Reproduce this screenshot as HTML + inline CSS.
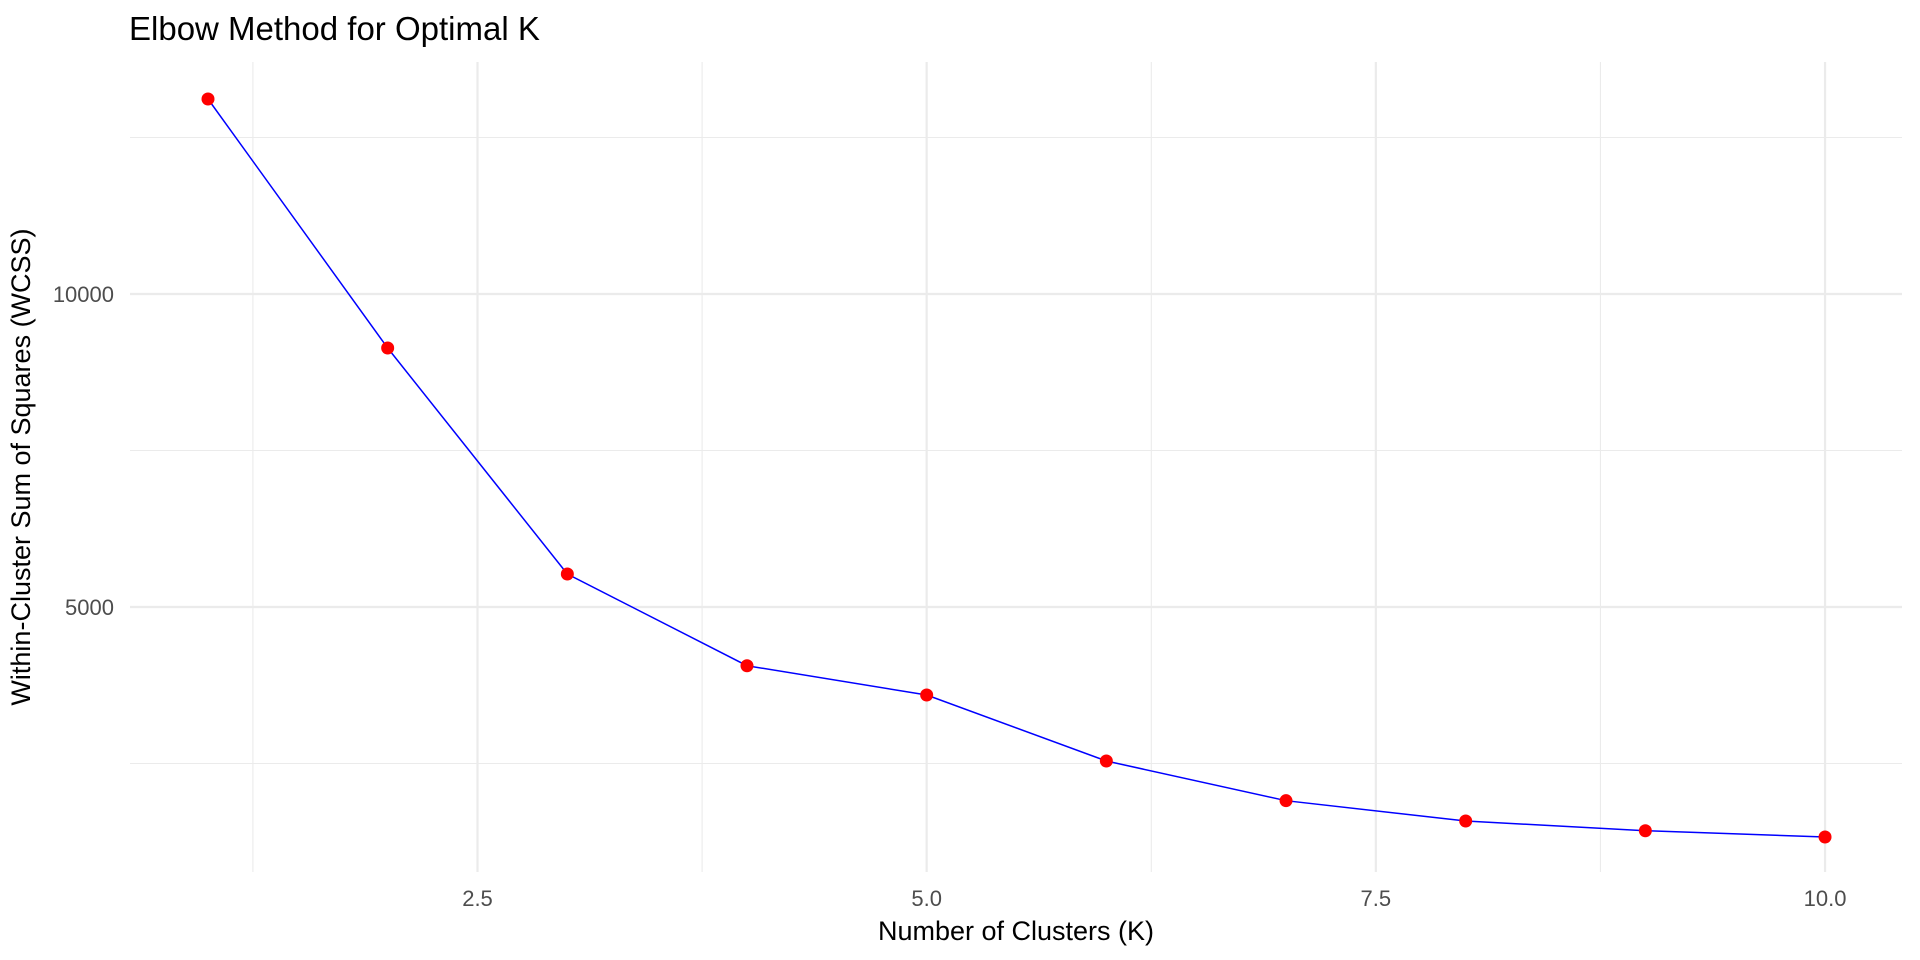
<!DOCTYPE html>
<html><head><meta charset="utf-8"><style>
html,body{margin:0;padding:0;background:#fff;}
svg{display:block;font-family:"Liberation Sans",Arial,sans-serif;}
</style></head><body>
<svg id="chart" width="1920" height="960" viewBox="0 0 1920 960" xmlns="http://www.w3.org/2000/svg">
<rect width="1920" height="960" fill="#fff"/>
<g id="grid"></g>
<g id="axes"></g>
<g id="series"></g>
<text x="129" y="40" font-size="33" fill="#000">Elbow Method for Optimal K</text>
<text x="1016" y="940" font-size="27" fill="#000" text-anchor="middle">Number of Clusters (K)</text>
<text transform="translate(30,467) rotate(-90)" font-size="27" fill="#000" text-anchor="middle">Within-Cluster Sum of Squares (WCSS)</text>
</svg>
<script>
const kValues = [1,2,3,4,5,6,7,8,9,10];
const wcssValues = [13115,9137,5527,4062,3594,2540,1906,1581,1426,1326];
const xMajorTicks = [2.5,5,7.5,10];
const xTickLabels = ["2.5","5.0","7.5","10.0"];
const xMinorTicks = [1.25,3.75,6.25,8.75];
const yMajorTicks = [5000,10000];
const yTickLabels = ["5000","10000"];
const yMinorTicks = [2500,7500,12500];

const NS="http://www.w3.org/2000/svg";
const panel={l:130,r:1902,t:62,b:872};
function xs(v){return 208+(v-1)*179.67;}
function ys(v){return 920-v/5000*313;}
function mk(tag,attrs,parent){const e=document.createElementNS(NS,tag);for(const k in attrs)e.setAttribute(k,attrs[k]);parent.appendChild(e);return e;}
const grid=document.getElementById('grid'),axes=document.getElementById('axes'),series=document.getElementById('series');
xMinorTicks.forEach(v=>{const e=mk('line',{x1:xs(v),x2:xs(v),y1:panel.t,y2:panel.b,stroke:'#ebebeb','stroke-width':1.1},grid);

});
yMinorTicks.forEach(v=>{const e=mk('line',{x1:panel.l,x2:panel.r,y1:ys(v),y2:ys(v),stroke:'#ebebeb','stroke-width':1.1},grid);

});
xMajorTicks.forEach((v,i)=>{const e=mk('line',{x1:xs(v),x2:xs(v),y1:panel.t,y2:panel.b,stroke:'#ebebeb','stroke-width':2.2},grid);


const t=mk('text',{x:xs(v),y:906,'font-size':22,fill:'#4d4d4d','text-anchor':'middle'},axes);t.textContent=xTickLabels[i];

});
yMajorTicks.forEach((v,i)=>{const e=mk('line',{x1:panel.l,x2:panel.r,y1:ys(v),y2:ys(v),stroke:'#ebebeb','stroke-width':2.2},grid);


const t=mk('text',{x:114,y:ys(v)+8,'font-size':22,fill:'#4d4d4d','text-anchor':'end'},axes);t.textContent=yTickLabels[i];

});
const pts=kValues.map((k,i)=>xs(k)+','+ys(wcssValues[i])).join(' ');
const pl=mk('polyline',{points:pts,fill:'none',stroke:'#0000ff','stroke-width':1.5},series);


kValues.forEach((k,i)=>{const c=mk('circle',{cx:xs(k),cy:ys(wcssValues[i]),r:6.5,fill:'#ff0000'},series);

});
</script>
</body></html>
